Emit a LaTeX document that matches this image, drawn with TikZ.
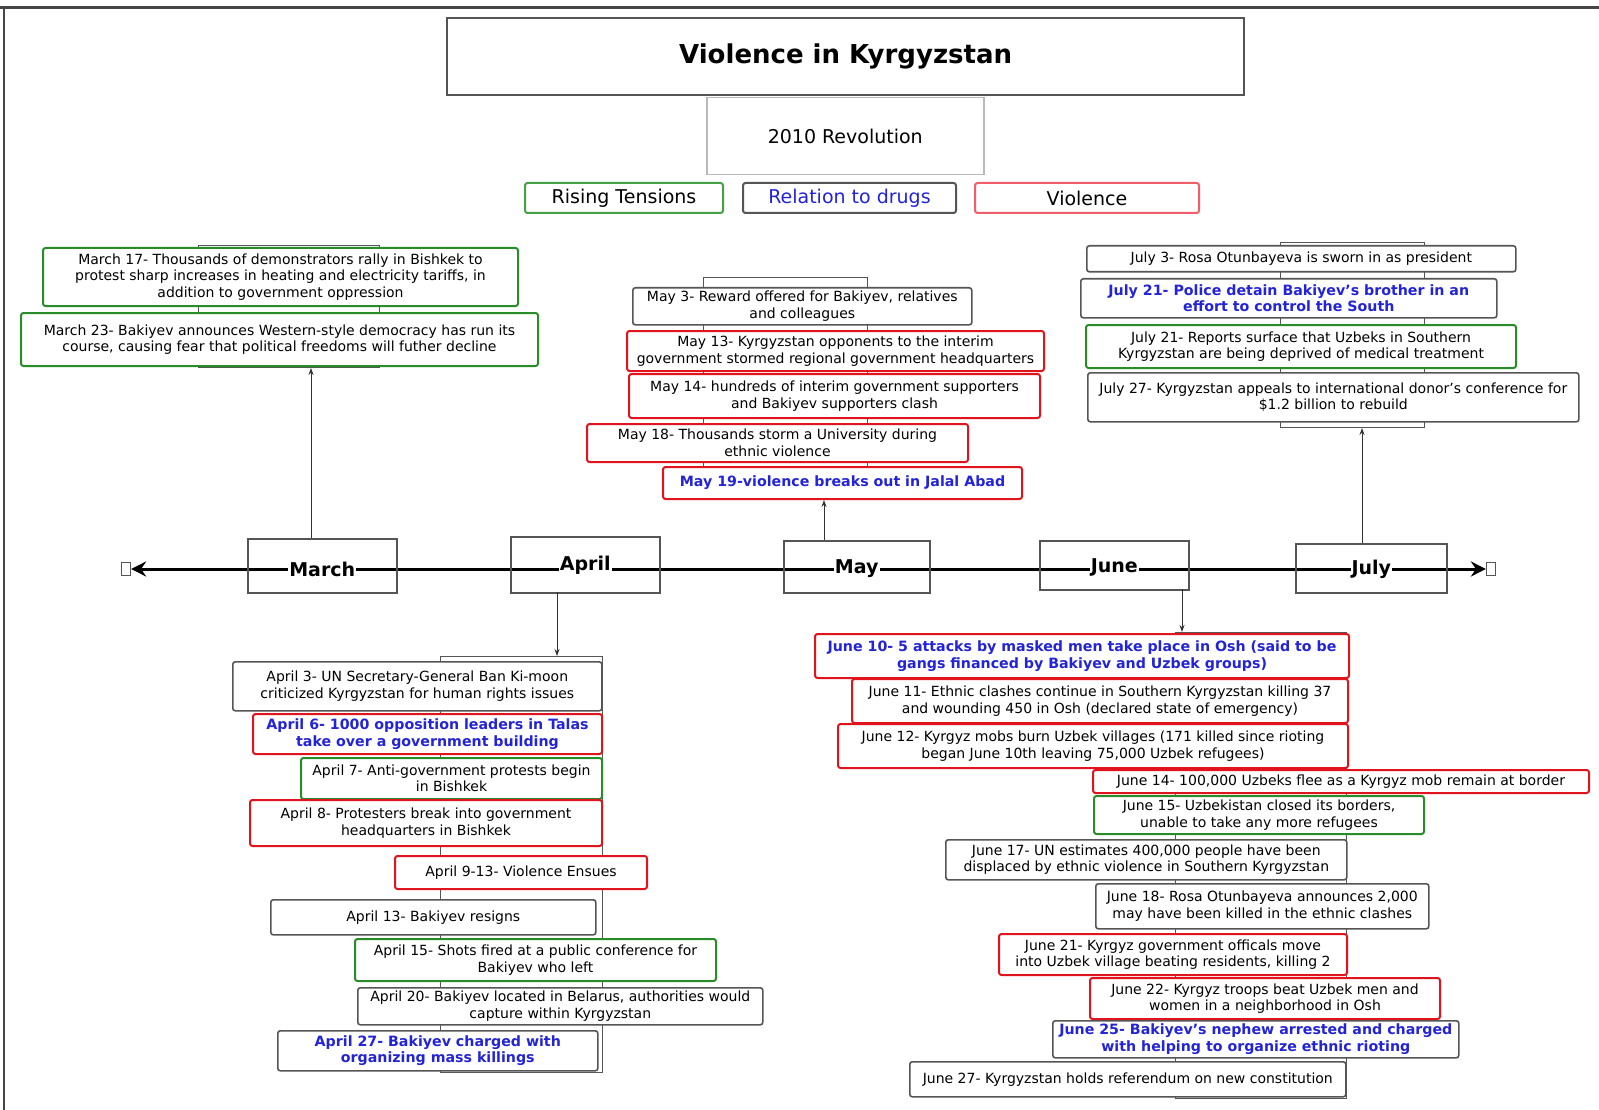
\documentclass[tikz,border=0pt]{standalone}
\usepackage{fontspec}
\setmainfont{DejaVu Sans}
\usetikzlibrary{arrows.meta}
\definecolor{tgreen}{RGB}{40,140,40}
\definecolor{lgreen}{RGB}{70,160,70}
\definecolor{tred}{RGB}{225,20,30}
\definecolor{lred}{RGB}{238,95,105}
\definecolor{tgray}{RGB}{85,85,85}
\definecolor{tblue}{RGB}{35,35,215}
\newcommand\bx[7]{\node[#2,anchor=north west,minimum width={(#5-#3)*1pt},minimum height={(#6-#4)*1pt}] (#1) at (#3,-#4) {#7};}
\tikzset{
  box/.style={draw, rounded corners=2.5pt, fill=white, align=center, inner sep=2pt, text=black, font=\fontsize{14}{16.5}\selectfont},
  gbox/.style={box, draw=tgreen, line width=2pt},
  rbox/.style={box, draw=tred, line width=2pt},
  kbox/.style={box, draw=tgray, line width=1.6pt},
  drug/.style={text=tblue, font=\bfseries\fontsize{14.2}{16.5}\selectfont},
  grp/.style={draw=tgray, line width=1pt},
  month/.style={draw=tgray, line width=1.5pt},
  mlabel/.style={fill=white, inner sep=1pt, font=\bfseries\fontsize{19}{22}\selectfont},
  conn/.style={draw=black!80, line width=1pt, -{Stealth[length=7pt,width=5pt]}},
  tline/.style={line width=3pt, {Stealth[length=15pt,width=15pt,inset=5pt]}-{Stealth[length=15pt,width=15pt,inset=5pt]}},
  endsq/.style={draw=tgray, line width=1.2pt, minimum width=9pt, minimum height=13pt, inner sep=0pt}
}
\begin{document}
\begin{tikzpicture}[x=1pt,y=1pt]
\useasboundingbox (0,0) rectangle (1599,-1110);
\fill[white] (0,0) rectangle (1599,-1110);
% frame
\draw[line width=3pt, gray!55!black] (0,-8) -- (1599,-8);
\draw[line width=1.5pt, gray!55!black] (4,-8) -- (4,-1110);
% title and legend
\bx{title}{box, draw=tgray, line width=2.2pt, rounded corners=0pt, font=\bfseries\fontsize{26}{30}\selectfont}{446}{17}{1243}{94}{Violence in Kyrgyzstan}
\bx{rev}{box, draw=gray!55, line width=1.5pt, rounded corners=0pt, font=\fontsize{19}{22}\selectfont}{706}{97}{983}{174}{2010 Revolution}
\bx{leg1}{box, draw=lgreen, line width=2pt, font=\fontsize{19}{22}\selectfont}{524}{182}{722}{212}{Rising Tensions}
\bx{leg2}{box, draw=tgray, line width=2pt, text=tblue, font=\fontsize{19}{22}\selectfont}{742}{182}{955}{212}{Relation to drugs}
\bx{leg3}{box, draw=lred, line width=2pt, font=\fontsize{19}{22}\selectfont}{974}{182}{1198}{212}{Violence}
% group containers
\bx{gMar}{grp}{198}{245}{379}{367}{}
\bx{gMay}{grp}{703}{277}{867}{498}{}
\bx{gJul}{grp}{1280}{242}{1424}{427}{}
\bx{gApr}{grp}{440}{656}{602}{1072}{}
\bx{gJun}{grp}{1175}{632}{1346}{1098}{}
% March
\bx{mar17}{gbox}{42}{247}{517}{305}{March 17- Thousands of demonstrators rally in Bishkek to\\protest sharp increases in heating and electricity tariffs, in\\addition to government oppression}
\bx{mar23}{gbox}{20}{312}{537}{365}{March 23- Bakiyev announces Western-style democracy has run its\\course, causing fear that political freedoms will futher decline}
% May
\bx{may3}{kbox}{632}{287}{971}{324}{May 3- Reward offered for Bakiyev, relatives\\and colleagues}
\bx{may13}{rbox}{626}{330}{1043}{370}{May 13- Kyrgyzstan opponents to the interim\\government stormed regional government headquarters}
\bx{may14}{rbox}{628}{373}{1039}{417}{May 14- hundreds of interim government supporters\\and Bakiyev supporters clash}
\bx{may18}{rbox}{586}{423}{967}{461}{May 18- Thousands storm a University during\\ethnic violence}
\bx{may19}{rbox,drug}{662}{466}{1021}{498}{May 19-violence breaks out in Jalal Abad}
% July
\bx{jul3}{kbox}{1086}{245}{1515}{271}{July 3- Rosa Otunbayeva is sworn in as president}
\bx{jul21a}{kbox,drug}{1080}{278}{1496}{317}{July 21- Police detain Bakiyev's brother in an\\effort to control the South}
\bx{jul21b}{gbox}{1085}{324}{1515}{367}{July 21- Reports surface that Uzbeks in Southern\\Kyrgyzstan are being deprived of medical treatment}
\bx{jul27}{kbox}{1087}{372}{1578}{421}{July 27- Kyrgyzstan appeals to international donor's conference for\\\$1.2 billion to rebuild}
% April
\bx{apr3}{kbox}{232}{661}{601}{710}{April 3- UN Secretary-General Ban Ki-moon\\criticized Kyrgyzstan for human rights issues}
\bx{apr6}{rbox,drug}{252}{713}{601}{753}{April 6- 1000 opposition leaders in Talas\\take over a government building}
\bx{apr7}{gbox}{300}{757}{601}{798}{April 7- Anti-government protests begin\\in Bishkek}
\bx{apr8}{rbox}{249}{799}{601}{845}{April 8- Protesters break into government\\headquarters in Bishkek}
\bx{apr9}{rbox}{394}{855}{646}{888}{April 9-13- Violence Ensues}
\bx{apr13}{kbox}{270}{899}{595}{934}{April 13- Bakiyev resigns}
\bx{apr15}{gbox}{354}{938}{715}{980}{April 15- Shots fired at a public conference for\\Bakiyev who left}
\bx{apr20}{kbox}{357}{987}{762}{1024}{April 20- Bakiyev located in Belarus, authorities would\\capture within Kyrgyzstan}
\bx{apr27}{kbox,drug}{277}{1030}{597}{1070}{April 27- Bakiyev charged with\\organizing mass killings}
% June
\bx{jun10}{rbox,drug}{814}{633}{1348}{677}{June 10- 5 attacks by masked men take place in Osh (said to be\\gangs financed by Bakiyev and Uzbek groups)}
\bx{jun11}{rbox}{851}{678}{1347}{722}{June 11- Ethnic clashes continue in Southern Kyrgyzstan killing 37\\and wounding 450 in Osh (declared state of emergency)}
\bx{jun12}{rbox}{837}{723}{1347}{767}{June 12- Kyrgyz mobs burn Uzbek villages (171 killed since rioting\\began June 10th leaving 75,000 Uzbek refugees)}
\bx{jun14}{rbox}{1092}{769}{1588}{792}{June 14- 100,000 Uzbeks flee as a Kyrgyz mob remain at border}
\bx{jun15}{gbox}{1093}{795}{1423}{833}{June 15- Uzbekistan closed its borders,\\unable to take any more refugees}
\bx{jun17}{kbox}{945}{839}{1346}{879}{June 17- UN estimates 400,000 people have been\\displaced by ethnic violence in Southern Kyrgyzstan}
\bx{jun18}{kbox}{1095}{883}{1428}{928}{June 18- Rosa Otunbayeva announces 2,000\\may have been killed in the ethnic clashes}
\bx{jun21}{rbox}{998}{933}{1346}{974}{June 21- Kyrgyz government officals move\\into Uzbek village beating residents, killing 2}
\bx{jun22}{rbox}{1089}{977}{1439}{1018}{June 22- Kyrgyz troops beat Uzbek men and\\women in a neighborhood in Osh}
\bx{jun25}{kbox,drug}{1052}{1020}{1458}{1057}{June 25- Bakiyev's nephew arrested and charged\\with helping to organize ethnic rioting}
\bx{jun27}{kbox}{909}{1061}{1345}{1096}{June 27- Kyrgyzstan holds referendum on new constitution}
% timeline
\node[endsq] (sqL) at (126,-569) {};
\node[endsq] (sqR) at (1491,-569) {};
\draw[tline] (sqL.east) -- (sqR.west);
\bx{mMar}{month}{247}{538}{396}{592}{}
\bx{mApr}{month}{510}{536}{659}{592}{}
\bx{mMay}{month}{783}{540}{929}{592}{}
\bx{mJun}{month}{1039}{540}{1188}{589}{}
\bx{mJul}{month}{1295}{543}{1446}{592}{}
\node[mlabel] (lMar) at (mMar.center |- sqL) {March};
\node[mlabel] (lApr) at ([yshift=4pt]mApr.center |- sqL) {April};
\node[mlabel] (lMay) at (mMay.center |- sqL) {May};
\node[mlabel] (lJun) at ([yshift=2pt]mJun.center |- sqL) {June};
\node[mlabel] (lJul) at (mJul.center |- sqL) {July};
% connectors
\coordinate (aMar) at (311,-538);
\coordinate (aMay) at (824,-540);
\coordinate (aJul) at (1362,-543);
\coordinate (aApr) at (557,-592);
\coordinate (aJun) at (1182,-589);
\draw[conn] (aMar) -- (aMar |- gMar.south);
\draw[conn] (aMay) -- (aMay |- may19.south);
\draw[conn] (aJul) -- (aJul |- gJul.south);
\draw[conn] (aApr) -- (aApr |- gApr.north);
\draw[conn] (aJun) -- (aJun |- gJun.north);
\end{tikzpicture}
\end{document}
